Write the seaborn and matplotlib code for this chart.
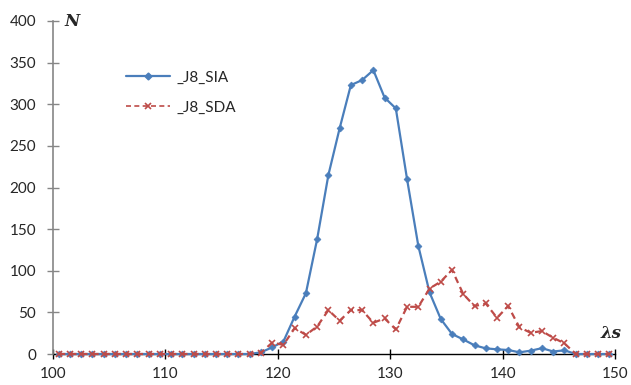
import matplotlib
matplotlib.use("Agg")
import matplotlib.pyplot as plt
import seaborn as sns
import pandas as pd
import numpy as np

# x positions (bin centres)
lam = [100.5 + i for i in range(50)]

sia = [0]*18 + [2, 8, 15, 45, 73, 138, 215, 271, 323, 329, 341, 308, 295, 210, 130,
                74, 42, 24, 17.5, 10.4, 6.8, 5.6, 4.8, 2, 4, 7, 3, 4.4, 0, 0, 0, 0]
sda = [0]*18 + [1.6, 13.6, 11, 31, 23, 33, 52.7, 40, 52.7, 52.7, 37.5, 42.7, 29.5, 56.7, 56.7,
                78.6, 87, 101, 72, 57.5, 60.7, 43.5, 57.5, 32, 25.5, 27.5, 19.5, 12.8, 0, 0, 0, 0]

series_names = ["_J8_SIA", "_J8_SDA"]
x_ticks = [100, 110, 120, 130, 140, 150]
y_ticks = [0, 50, 100, 150, 200, 250, 300, 350, 400]

df = pd.concat([
    pd.DataFrame({"lam": lam, "N": sia, "series": series_names[0]}),
    pd.DataFrame({"lam": lam, "N": sda, "series": series_names[1]}),
])

sns.set_theme(style="white")
plt.rcParams["font.family"] = ["Lato", "DejaVu Sans"]

fig = plt.figure(figsize=(6.31, 3.85), dpi=100)
ax = fig.add_axes([53/631, 1-354/385, (615-53)/631, (354-21)/385])

blue = "#4A7EBB"
red = "#BE4B48"
sns.lineplot(data=df, x="lam", y="N", hue="series", style="series",
             palette={series_names[0]: blue, series_names[1]: red},
             dashes={series_names[0]: "", series_names[1]: (3, 2)},
             markers={series_names[0]: "D", series_names[1]: "X"},
             markersize=4.5, linewidth=1.6, ax=ax, legend=False)
# restyle sda markers to plain x
for ln, mk, ms, mew in zip(ax.lines, ["D", "x"], [3.5, 5], [0.5, 1.2]):
    ln.set_marker(mk)
    ln.set_markersize(ms)
    ln.set_markeredgewidth(mew)
    ln.set_markeredgecolor(ln.get_color())
    ln.set_clip_on(False)
    ln.set_zorder(3)

ax.set_xlim(100, 150)
ax.set_ylim(0, 400)
ax.set_xticks(x_ticks)
ax.set_yticks(y_ticks)
ax.set_xlabel("")
ax.set_ylabel("")
for s in ["top", "right"]:
    ax.spines[s].set_visible(False)
ax.spines["left"].set_color("#868686")
ax.spines["left"].set_linewidth(1.2)
ax.spines["bottom"].set_color("black")
ax.spines["bottom"].set_linewidth(1.0)
ax.spines["bottom"].set_zorder(1)
ax.tick_params(axis="y", direction="inout", length=8, width=1.0, color="#868686",
               labelsize=11, pad=8, left=True)
ax.tick_params(axis="x", direction="inout", length=7, width=1.0, color="black",
               labelsize=11, pad=6, bottom=True)
ax.patch.set_alpha(0)

# legend
from matplotlib.lines import Line2D
handles = [Line2D([], [], color=blue, lw=1.6, marker="D", ms=3.5),
           Line2D([], [], color=red, lw=1.2, ls=(0, (3, 2)), marker="x", ms=5, mew=1.2)]
fig.legend(handles, series_names, loc="upper left",
           bbox_to_anchor=(112/631, 1-57/385), frameon=False, fontsize=11,
           handlelength=2.9, labelspacing=1.05, handletextpad=0.4)

fig.text(64/631, 1-22/385, "N", fontsize=12, fontstyle="italic", fontweight="bold",
         family="DejaVu Serif", va="center", ha="left")
fig.text(622/631, 1-334/385, "λs", fontsize=12, fontstyle="italic", fontweight="bold",
         family="DejaVu Serif", va="center", ha="right")

fig.savefig("out.png", dpi=100)
